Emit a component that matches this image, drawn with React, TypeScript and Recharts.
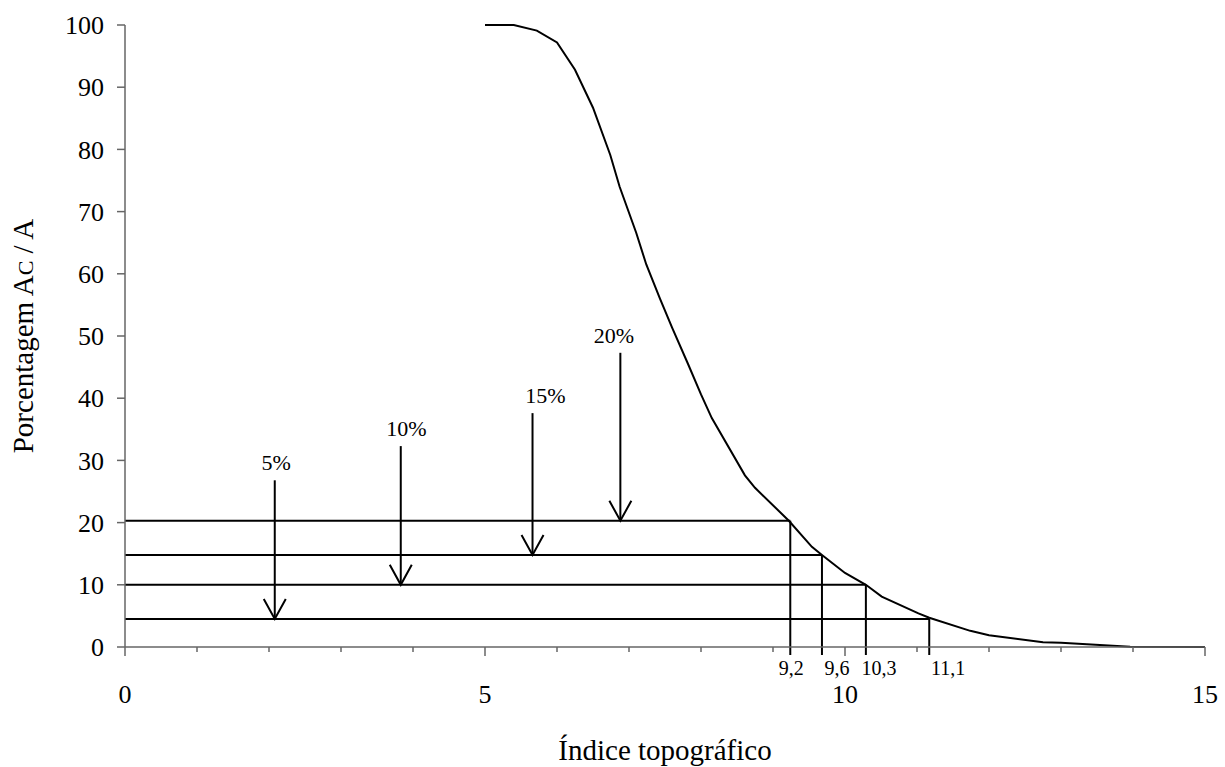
import {
  Line,
  LineChart,
  ReferenceDot,
  ReferenceLine,
  XAxis,
  YAxis,
} from "recharts";

// curva Ac/A (%) x índice topográfico
const curveX = [
  5.0, 5.4, 5.72, 6.0, 6.25, 6.5, 6.74, 6.87, 7.1, 7.24, 7.43, 7.6, 7.82, 8.0,
  8.15, 8.61, 8.75, 9.22, 9.54, 9.68, 10.0, 10.29, 10.51, 11.02, 11.17, 11.74,
  12.0, 12.75, 13.0, 13.96, 15.0,
];
const curveY = [
  100, 100, 99.1, 97.2, 92.8, 86.7, 79.1, 74, 66.6, 61.5, 56, 51.3, 45.5, 40.6,
  36.8, 27.6, 25.6, 20.3, 16.1, 14.8, 11.9, 10.0, 8.1, 5.4, 4.7, 2.6, 1.9,
  0.75, 0.7, 0.05, 0,
];

// limiares
const pctLabels = ["5%", "10%", "15%", "20%"];
const cutoffY = [4.5, 10, 14.8, 20.3];
const cutoffX = [11.17, 10.29, 9.68, 9.24];
const cutoffLabels = ["11,1", "10,3", "9,6", "9,2"];
const arrowX = [2.08, 3.83, 5.66, 6.88];
const arrowTop = [26.8, 32.3, 37.6, 47.3];
const pctLabelX = [2.1, 3.91, 5.84, 6.79];

const xTicks = [0, 1, 2, 3, 4, 5, 6, 7, 8, 9, 10, 11, 12, 13, 14, 15];
const yTicks = [0, 10, 20, 30, 40, 50, 60, 70, 80, 90, 100];

const data = curveX.map((x, i) => ({ x, y: curveY[i] }));

const FONT = '"Liberation Serif", "Times New Roman", serif';
const AXIS = "#666";
const cutoffLabelDx = [19, 13, 15, 1];

function XTick({ x, y, payload }: any) {
  const major = payload.value % 5 === 0;
  return (
    <g>
      <line x1={x} y1={y} x2={x} y2={y + (major ? 9 : 5)} stroke={AXIS} strokeWidth={1.5} />
      {major && (
        <text x={x} y={y + 56} textAnchor="middle" fontFamily={FONT} fontSize={26} fill="#000">
          {payload.value}
        </text>
      )}
    </g>
  );
}

export default function App() {
  return (
    <div style={{ position: "absolute", left: 0, top: 0, background: "#fff" }}>
      <LineChart
        width={1225}
        height={767}
        data={data}
        margin={{ top: 25, right: 20, left: 0, bottom: 20 }}
      >
        <XAxis
          dataKey="x"
          type="number"
          domain={[0, 15]}
          ticks={xTicks}
          interval={0}
          tickSize={0}
          tickMargin={0}
          tickLine={false}
          stroke={AXIS}
          strokeWidth={1.5}
          height={100}
          tick={<XTick />}
          label={{
            content: ({ viewBox }: any) => (
              <text
                x={viewBox.x + viewBox.width / 2}
                y={760}
                textAnchor="middle"
                fontFamily={FONT}
                fontSize={29}
                fill="#000"
              >
                Índice topográfico
              </text>
            ),
          }}
        />
        <YAxis
          type="number"
          domain={[0, 100]}
          ticks={yTicks}
          interval={0}
          width={125}
          tickSize={8}
          tickMargin={13}
          stroke={AXIS}
          strokeWidth={1.5}
          tick={{ fontFamily: FONT, fontSize: 26, fill: "#000" }}
          label={{
            content: ({ viewBox }: any) => {
              const cy = viewBox.y + viewBox.height / 2;
              return (
                <text
                  x={33}
                  y={cy}
                  transform={`rotate(-90, 33, ${cy})`}
                  textAnchor="middle"
                  fontFamily={FONT}
                  fontSize={29}
                  fill="#000"
                >
                  Porcentagem A<tspan fontSize={22}>C</tspan> / A
                </text>
              );
            },
          }}
        />

        {cutoffY.map((cy, i) => (
          <ReferenceLine
            key={`h${i}`}
            segment={[
              { x: 0, y: cy },
              { x: cutoffX[i], y: cy },
            ]}
            stroke="#000"
            strokeWidth={2}
          />
        ))}
        {cutoffY.map((cy, i) => (
          <ReferenceLine
            key={`v${i}`}
            segment={[
              { x: cutoffX[i], y: cy },
              { x: cutoffX[i], y: 0 },
            ]}
            shape={(p: any) => (
              <line x1={p.x1} y1={p.y1} x2={p.x2} y2={p.y2 + 8} stroke="#000" strokeWidth={2} />
            )}
          />
        ))}
        {cutoffLabels.map((lab, i) => (
          <ReferenceDot
            key={`l${i}`}
            x={cutoffX[i]}
            y={0}
            ifOverflow="visible"
            shape={(p: any) => (
              <text
                x={p.cx + cutoffLabelDx[i]}
                y={p.cy + 28}
                textAnchor="middle"
                fontFamily={FONT}
                fontSize={20}
                fill="#000"
              >
                {lab}
              </text>
            )}
          />
        ))}

        {arrowX.map((ax, i) => (
          <ReferenceLine
            key={`a${i}`}
            segment={[
              { x: ax, y: arrowTop[i] },
              { x: ax, y: cutoffY[i] },
            ]}
            stroke="#000"
            strokeWidth={2}
          />
        ))}
        {arrowX.map((ax, i) => (
          <ReferenceDot
            key={`ah${i}`}
            x={ax}
            y={cutoffY[i]}
            ifOverflow="visible"
            shape={(p: any) => (
              <path
                d={`M${p.cx - 11},${p.cy - 20} L${p.cx},${p.cy} L${p.cx + 11},${p.cy - 20}`}
                fill="none"
                stroke="#000"
                strokeWidth={2}
              />
            )}
          />
        ))}
        {pctLabels.map((lab, i) => (
          <ReferenceDot
            key={`p${i}`}
            x={pctLabelX[i]}
            y={arrowTop[i]}
            ifOverflow="visible"
            shape={(p: any) => (
              <text
                x={p.cx}
                y={p.cy - 10}
                textAnchor="middle"
                fontFamily={FONT}
                fontSize={22}
                fill="#000"
              >
                {lab}
              </text>
            )}
          />
        ))}

        <Line
          type="linear"
          dataKey="y"
          stroke="#000"
          strokeWidth={2}
          dot={false}
          activeDot={false}
          isAnimationActive={false}
        />
      </LineChart>
    </div>
  );
}
